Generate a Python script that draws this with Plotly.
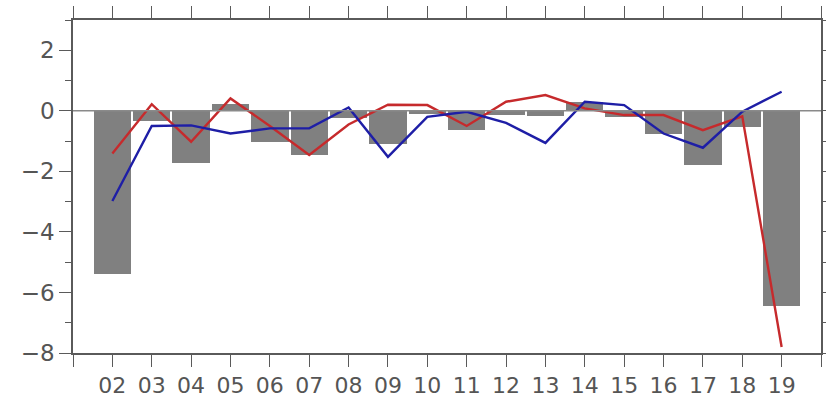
import plotly.graph_objects as go

years = ["02", "03", "04", "05", "06", "07", "08", "09", "10",
         "11", "12", "13", "14", "15", "16", "17", "18", "19"]
bar_values = [-5.4, -0.33, -1.74, 0.22, -1.02, -1.46, -0.25, -1.1, -0.1,
              -0.64, -0.14, -0.17, 0.3, -0.22, -0.77, -1.79, -0.55, -6.45]
red_values = [-1.41, 0.22, -1.02, 0.41, -0.5, -1.46, -0.45, 0.2, 0.19,
              -0.5, 0.3, 0.52, 0.08, -0.14, -0.14, -0.64, -0.18, -7.8]
blue_values = [-2.98, -0.5, -0.48, -0.75, -0.58, -0.58, 0.11, -1.52, -0.2,
               -0.03, -0.4, -1.06, 0.3, 0.19, -0.75, -1.22, -0.03, 0.63]

x_pos = [int(y) for y in years]
tick_positions = list(range(1, 21))
tick_labels = ["" if t in (1, 20) else f"{t:02d}" for t in tick_positions]

fig = go.Figure()
fig.add_trace(go.Bar(x=x_pos, y=bar_values, width=0.95,
                     marker=dict(color="#808080", line=dict(width=0)),
                     showlegend=False))
fig.add_shape(type="line", xref="x", yref="y", x0=1, x1=20, y0=0, y1=0,
              line=dict(color="#8a8a8a", width=1.5), layer="above")
fig.add_trace(go.Scatter(x=x_pos, y=red_values, mode="lines",
                         line=dict(color="#c62a2c", width=2.4), showlegend=False))
fig.add_trace(go.Scatter(x=x_pos, y=blue_values, mode="lines",
                         line=dict(color="#1e1ea6", width=2.4), showlegend=False))

axis_color = "#5a5a5a"
fig.update_layout(
    width=826, height=403,
    margin=dict(l=73, r=5, t=20, b=50),
    paper_bgcolor="white", plot_bgcolor="white",
    font=dict(family="DejaVu Sans", size=22, color="#555555"),
    bargap=0,
    xaxis=dict(range=[1, 20], tickvals=tick_positions, ticktext=tick_labels,
               ticks="outside", ticklen=12, tickwidth=1.3, tickcolor=axis_color,
               showline=True, linecolor=axis_color, linewidth=1.5, mirror="ticks",
               showgrid=False, zeroline=False, tickfont=dict(size=22),
               automargin=False),
    yaxis=dict(range=[-8, 3], tickvals=[-8, -6, -4, -2, 0, 2],
               ticks="outside", ticklen=12, tickwidth=1.3, tickcolor=axis_color,
               minor=dict(tickvals=[-7, -5, -3, -1, 1, 3], ticks="outside", ticklen=6,
                          tickcolor=axis_color, tickwidth=1.3, showgrid=False),
               showline=True, linecolor=axis_color, linewidth=1.5, mirror="ticks",
               showgrid=False, zeroline=False, tickfont=dict(size=23),
               automargin=False),
)

fig.write_html("out.html", config={"displayModeBar": False},
               post_script="document.body.style.margin='0';document.body.style.overflow='hidden';")
